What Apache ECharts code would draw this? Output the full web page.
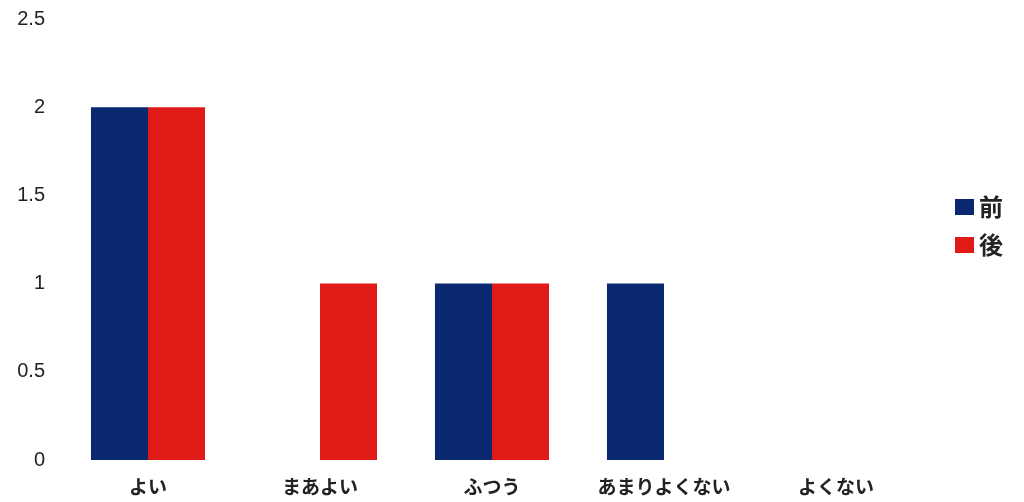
<!DOCTYPE html>
<html>
<head>
<meta charset="utf-8">
<script src="https://cdn.jsdelivr.net/npm/echarts@6/dist/echarts.min.js"></script>
<style>
  html, body { margin: 0; padding: 0; background: #fff; }
  #main { width: 1024px; height: 502px; }
</style>
</head>
<body>
<div id="main"></div>
<script>
const categories = ['よい', 'まあよい', 'ふつう', 'あまりよくない', 'よくない']
const before = [2, 0, 1, 1, 0]
const after = [2, 1, 1, 0, 0]

var myChart = echarts.init(document.getElementById('main'))

var option = {
    animation: false,
    textStyle: { fontFamily: '"Noto Sans CJK JP", "Liberation Sans", sans-serif' },
    grid: { left: 62, right: 102, top: 19, bottom: 42 },
    legend: {
        orient: 'vertical',
        left: 950,
        top: 190,
        icon: 'rect',
        itemWidth: 19,
        itemHeight: 16,
        itemGap: 14,
        textStyle: { fontSize: 24, fontWeight: 'bold', color: '#222' },
        data: ['前', '後']
    },
    xAxis: {
        type: 'category',
        data: categories,
        axisLine: { show: false },
        axisTick: { show: false },
        axisLabel: { interval: 0, hideOverlap: false, margin: 17, fontSize: 19, fontWeight: 'bold', color: '#222' }
    },
    yAxis: {
        type: 'value',
        min: 0,
        max: 2.5,
        interval: 0.5,
        splitLine: { show: false },
        axisLine: { show: false },
        axisTick: { show: false },
        axisLabel: { margin: 17, fontSize: 20, color: '#222', fontFamily: '"Liberation Sans", sans-serif' }
    },
    series: [
        { name: '前', type: 'bar', data: before, barGap: '0%', barCategoryGap: '33.7%', itemStyle: { color: '#0A2870' } },
        { name: '後', type: 'bar', data: after, barGap: '0%', barCategoryGap: '33.7%', itemStyle: { color: '#E01B17' } }
    ]
}

myChart.setOption(option)
</script>
</body>
</html>
